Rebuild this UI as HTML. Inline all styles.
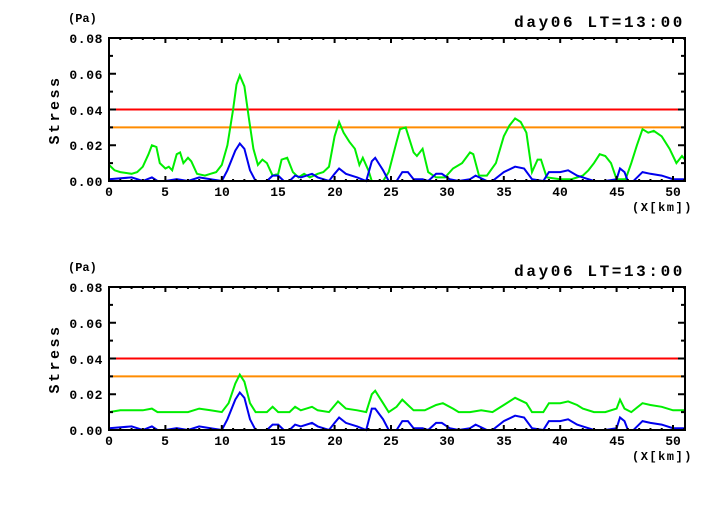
<!DOCTYPE html>
<html><head><meta charset="utf-8"><style>
body{margin:0;background:#fff;width:724px;height:504px;overflow:hidden}
svg text{font-family:"Liberation Mono",monospace;font-weight:bold;fill:#000}
</style></head><body>
<svg id="s" width="724" height="504" xmlns="http://www.w3.org/2000/svg">
<g id="p1"></g><g id="p2"></g>
<text x="68" y="22" font-size="12">(Pa)</text>
<text x="685" y="27" font-size="16" text-anchor="end" letter-spacing="2.6">day06 LT=13:00</text>
<text x="632" y="211" font-size="12" letter-spacing="1.5">(X[km])</text>
<text transform="translate(59,110) rotate(-90)" font-size="15" text-anchor="middle" letter-spacing="2.5">Stress</text>
<text x="68" y="271" font-size="12">(Pa)</text>
<text x="685" y="276" font-size="16" text-anchor="end" letter-spacing="2.6">day06 LT=13:00</text>
<text x="632" y="460" font-size="12" letter-spacing="1.5">(X[km])</text>
<text transform="translate(59,359) rotate(-90)" font-size="15" text-anchor="middle" letter-spacing="2.5">Stress</text>
<g font-size="13" text-anchor="end" letter-spacing="0.6">
<text x="103" y="43">0.08</text><text x="103" y="79">0.06</text><text x="103" y="115">0.04</text><text x="103" y="150">0.02</text><text x="103" y="186">0.00</text>
<text x="103" y="292">0.08</text><text x="103" y="328">0.06</text><text x="103" y="364">0.04</text><text x="103" y="399">0.02</text><text x="103" y="435">0.00</text>
</g>
<g font-size="13" text-anchor="middle">
<text x="109" y="196">0</text><text x="165" y="196">5</text><text x="222" y="196">10</text><text x="278" y="196">15</text><text x="335" y="196">20</text><text x="391" y="196">25</text><text x="447" y="196">30</text><text x="504" y="196">35</text><text x="560" y="196">40</text><text x="617" y="196">45</text><text x="673" y="196">50</text>
<text x="109" y="445">0</text><text x="165" y="445">5</text><text x="222" y="445">10</text><text x="278" y="445">15</text><text x="335" y="445">20</text><text x="391" y="445">25</text><text x="447" y="445">30</text><text x="504" y="445">35</text><text x="560" y="445">40</text><text x="617" y="445">45</text><text x="673" y="445">50</text>
</g>
</svg>
<script>
var NS="http://www.w3.org/2000/svg";
function el(g,t,a){var e=document.createElementNS(NS,t);for(var k in a)e.setAttribute(k,a[k]);g.appendChild(e);return e;}
var G1=[[0,.009],[.5,.006],[1,.005],[2,.004],[2.5,.005],[3,.008],[3.5,.015],[3.8,.020],[4.2,.019],[4.5,.010],[5,.007],[5.3,.008],[5.6,.006],[6,.015],[6.3,.016],[6.6,.010],[7,.013],[7.3,.011],[7.8,.004],[8.5,.003],[9,.004],[9.5,.005],[10,.009],[10.5,.020],[11,.040],[11.3,.054],[11.6,.059],[12,.053],[12.4,.035],[12.8,.018],[13.2,.009],[13.6,.012],[14,.010],[14.5,.003],[15,.004],[15.3,.012],[15.8,.013],[16.3,.005],[16.8,.002],[17.3,.004],[17.8,.002],[18.5,.004],[19,.005],[19.5,.008],[20,.025],[20.4,.033],[20.8,.027],[21.3,.022],[21.8,.018],[22.2,.009],[22.5,.013],[23,.006],[23.3,0],[24.3,0],[24.8,.005],[25.5,.022],[25.8,.029],[26.3,.030],[27,.016],[27.3,.014],[27.8,.018],[28.3,.005],[29,.002],[29.8,.002],[30.5,.007],[31.3,.010],[32,.016],[32.3,.015],[32.8,.003],[33.5,.003],[34.3,.010],[35,.025],[35.5,.031],[36,.035],[36.5,.033],[37,.027],[37.5,.005],[38,.012],[38.3,.012],[38.8,.002],[40,.001],[41,.001],[42,.003],[42.5,.006],[43,.010],[43.5,.015],[44,.014],[44.5,.010],[45,.001],[45.8,.001],[46.3,.010],[46.8,.020],[47.3,.029],[47.8,.027],[48.3,.028],[49,.025],[49.7,.018],[50.3,.010],[50.8,.014],[51.06,.012]];
var B1=[[0,.001],[2,.002],[3,0],[3.8,.002],[4.3,0],[5,0],[6,.001],[7,0],[8,.002],[9,.001],[10,0],[10.5,.006],[11.2,.017],[11.6,.021],[12,.018],[12.5,.006],[13,0],[14,0],[14.5,.003],[15,.003],[15.5,0],[16,0],[16.5,.003],[17,.002],[18,.004],[18.5,.002],[19.5,0],[20,.004],[20.4,.007],[21,.004],[22,.002],[22.8,0],[23.3,.011],[23.6,.013],[24.3,.006],[24.8,0],[25.5,0],[26,.005],[26.5,.005],[27,.001],[27.8,.001],[28.3,0],[29,.004],[29.5,.004],[30.2,.001],[31,0],[32,.001],[32.5,.003],[33.5,0],[34,0],[35,.005],[36,.008],[36.8,.007],[37.5,.001],[38.5,0],[39,.005],[40,.005],[40.7,.006],[41.5,.003],[42,.002],[43,0],[44,0],[45,.001],[45.3,.007],[45.7,.005],[46,0],[46.5,0],[47.3,.005],[48,.004],[49,.003],[50,.001],[51.06,.001]];
var G2=[[0,.010],[1,.011],[3,.011],[3.8,.012],[4.3,.010],[6,.010],[7,.010],[8,.012],[9,.011],[10,.010],[10.6,.015],[11.2,.026],[11.6,.031],[12,.027],[12.5,.015],[13,.010],[14,.010],[14.5,.013],[15,.010],[16,.010],[16.5,.013],[17,.011],[18,.013],[18.5,.011],[19.5,.010],[20.3,.016],[21,.012],[22,.011],[22.8,.010],[23.3,.020],[23.6,.022],[24.3,.015],[24.8,.010],[25.5,.013],[26,.017],[26.5,.014],[27,.011],[28,.011],[29,.014],[29.6,.015],[30.5,.012],[31,.010],[32,.010],[33,.011],[34,.010],[35,.014],[36,.018],[37,.015],[37.5,.010],[38.5,.010],[39,.015],[40,.015],[40.7,.016],[41.5,.014],[42,.012],[43,.010],[44,.010],[45,.012],[45.3,.017],[45.7,.012],[46.3,.010],[47.3,.015],[48,.014],[49,.013],[50,.011],[51.06,.011]];
var B2=B1.map(function(p){return [p[0],p[1]];});
B2.forEach(function(p){if(p[0]>=23.2&&p[0]<=23.7)p[1]=.012;});
function draw(g,off,G,B){
 var X=function(k){return 109+k*11.28}, Y=function(v){return off+181-v*1787.5};
 el(g,"line",{x1:109,x2:685,y1:Y(.04),y2:Y(.04),stroke:"#ff0000","stroke-width":2});
 el(g,"line",{x1:109,x2:685,y1:Y(.03),y2:Y(.03),stroke:"#ff8c00","stroke-width":2});
 el(g,"polyline",{points:G.map(function(p){return X(p[0]).toFixed(1)+","+Y(p[1]).toFixed(1)}).join(" "),fill:"none",stroke:"#00ee00","stroke-width":2});
 el(g,"polyline",{points:B.map(function(p){return X(p[0]).toFixed(1)+","+Y(p[1]).toFixed(1)}).join(" "),fill:"none",stroke:"#0000ee","stroke-width":2});
 var t=off+38,b=off+181;
 for(var k=0;k<=51;k++){var x=X(k),L=(k%5==0)?5:2;
  el(g,"line",{x1:x,x2:x,y1:b,y2:b-L,stroke:"#000","stroke-width":2});
  el(g,"line",{x1:x,x2:x,y1:t,y2:t+L,stroke:"#000","stroke-width":2});}
 for(var i=0;i<=8;i++){var y=Y(i*.01),L=(i%2==0)?7:4;
  el(g,"line",{x1:109,x2:109+L,y1:y,y2:y,stroke:"#000","stroke-width":2});
  el(g,"line",{x1:685,x2:685-L,y1:y,y2:y,stroke:"#000","stroke-width":2});}
 el(g,"rect",{x:109,y:t,width:576,height:143,fill:"none",stroke:"#000","stroke-width":2});
}
draw(document.getElementById("p1"),0,G1,B1);
draw(document.getElementById("p2"),249,G2,B2);
</script>
</body></html>
